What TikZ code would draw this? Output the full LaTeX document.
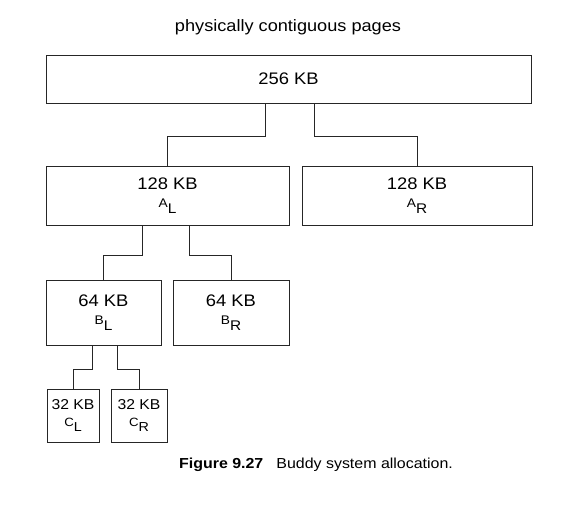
\documentclass[tikz,border=0pt]{standalone}
\usepackage{fontspec}
\setmainfont{Liberation Sans}[FakeStretch=1.1]
\newcommand\sublbl[2]{{\fontsize{12.5}{13}\selectfont #1}\raisebox{-6pt}{\fontsize{14}{14}\selectfont #2}}
\newcommand\smsublbl[2]{{\fontsize{12}{13}\selectfont #1}\raisebox{-5pt}{\fontsize{13}{14}\selectfont #2}}
\begin{document}
\begin{tikzpicture}[x=1pt,y=-1pt,
  box/.style={draw=black!85,line width=0.9pt,inner sep=0pt,align=center,
    font=\fontsize{16.7}{17.5}\selectfont},
  smallbox/.style={box,font=\fontsize{14.3}{16.5}\selectfont},
  link/.style={draw=black!85,line width=0.9pt}]
\useasboundingbox (0,0) rectangle (568,514);
\node[font=\fontsize{16.5}{18}\selectfont] (title) at (288,27) {physically contiguous pages};
\node[box,minimum width=485pt,minimum height=48pt] (top) at (288.5,79) {256 KB};
\node[box,minimum width=243pt,minimum height=59pt] (AL) at (167.5,195.5) {128 KB\\\sublbl{A}{L}};
\node[box,minimum width=230pt,minimum height=59pt] (AR) at (417,195.5) {128 KB\\\sublbl{A}{R}};
\node[box,minimum width=115pt,minimum height=65pt] (BL) at (103.5,312.5) {64 KB\\\sublbl{B}{L}};
\node[box,minimum width=116pt,minimum height=65pt] (BR) at (231,312.5) {64 KB\\\sublbl{B}{R}};
\node[smallbox,minimum width=52pt,minimum height=53pt] (CL) at (73,415.5) {32 KB\\\smsublbl{C}{L}};
\node[smallbox,minimum width=56pt,minimum height=53pt] (CR) at (139,415.5) {32 KB\\\smsublbl{C}{R}};
\coordinate (ta) at (265,136);
\coordinate (tb) at (314,136);
\coordinate (aa) at (142,255);
\coordinate (ab) at (189,255);
\coordinate (ba) at (92,369);
\coordinate (bb) at (117,369);
\draw[link] (top.south -| ta) -- (ta) -| (AL.north);
\draw[link] (top.south -| tb) -- (tb) -| (AR.north);
\draw[link] (AL.south -| aa) -- (aa) -| (BL.north);
\draw[link] (AL.south -| ab) -- (ab) -| (BR.north);
\draw[link] (BL.south -| ba) -- (ba) -| (CL.north);
\draw[link] (BL.south -| bb) -- (bb) -| (CR.north);
\node[font=\fontsize{14.5}{16}\selectfont] (cap) at (316,465) {\textbf{Figure 9.27}\hspace{0.9em}Buddy system allocation.};
\end{tikzpicture}
\end{document}
